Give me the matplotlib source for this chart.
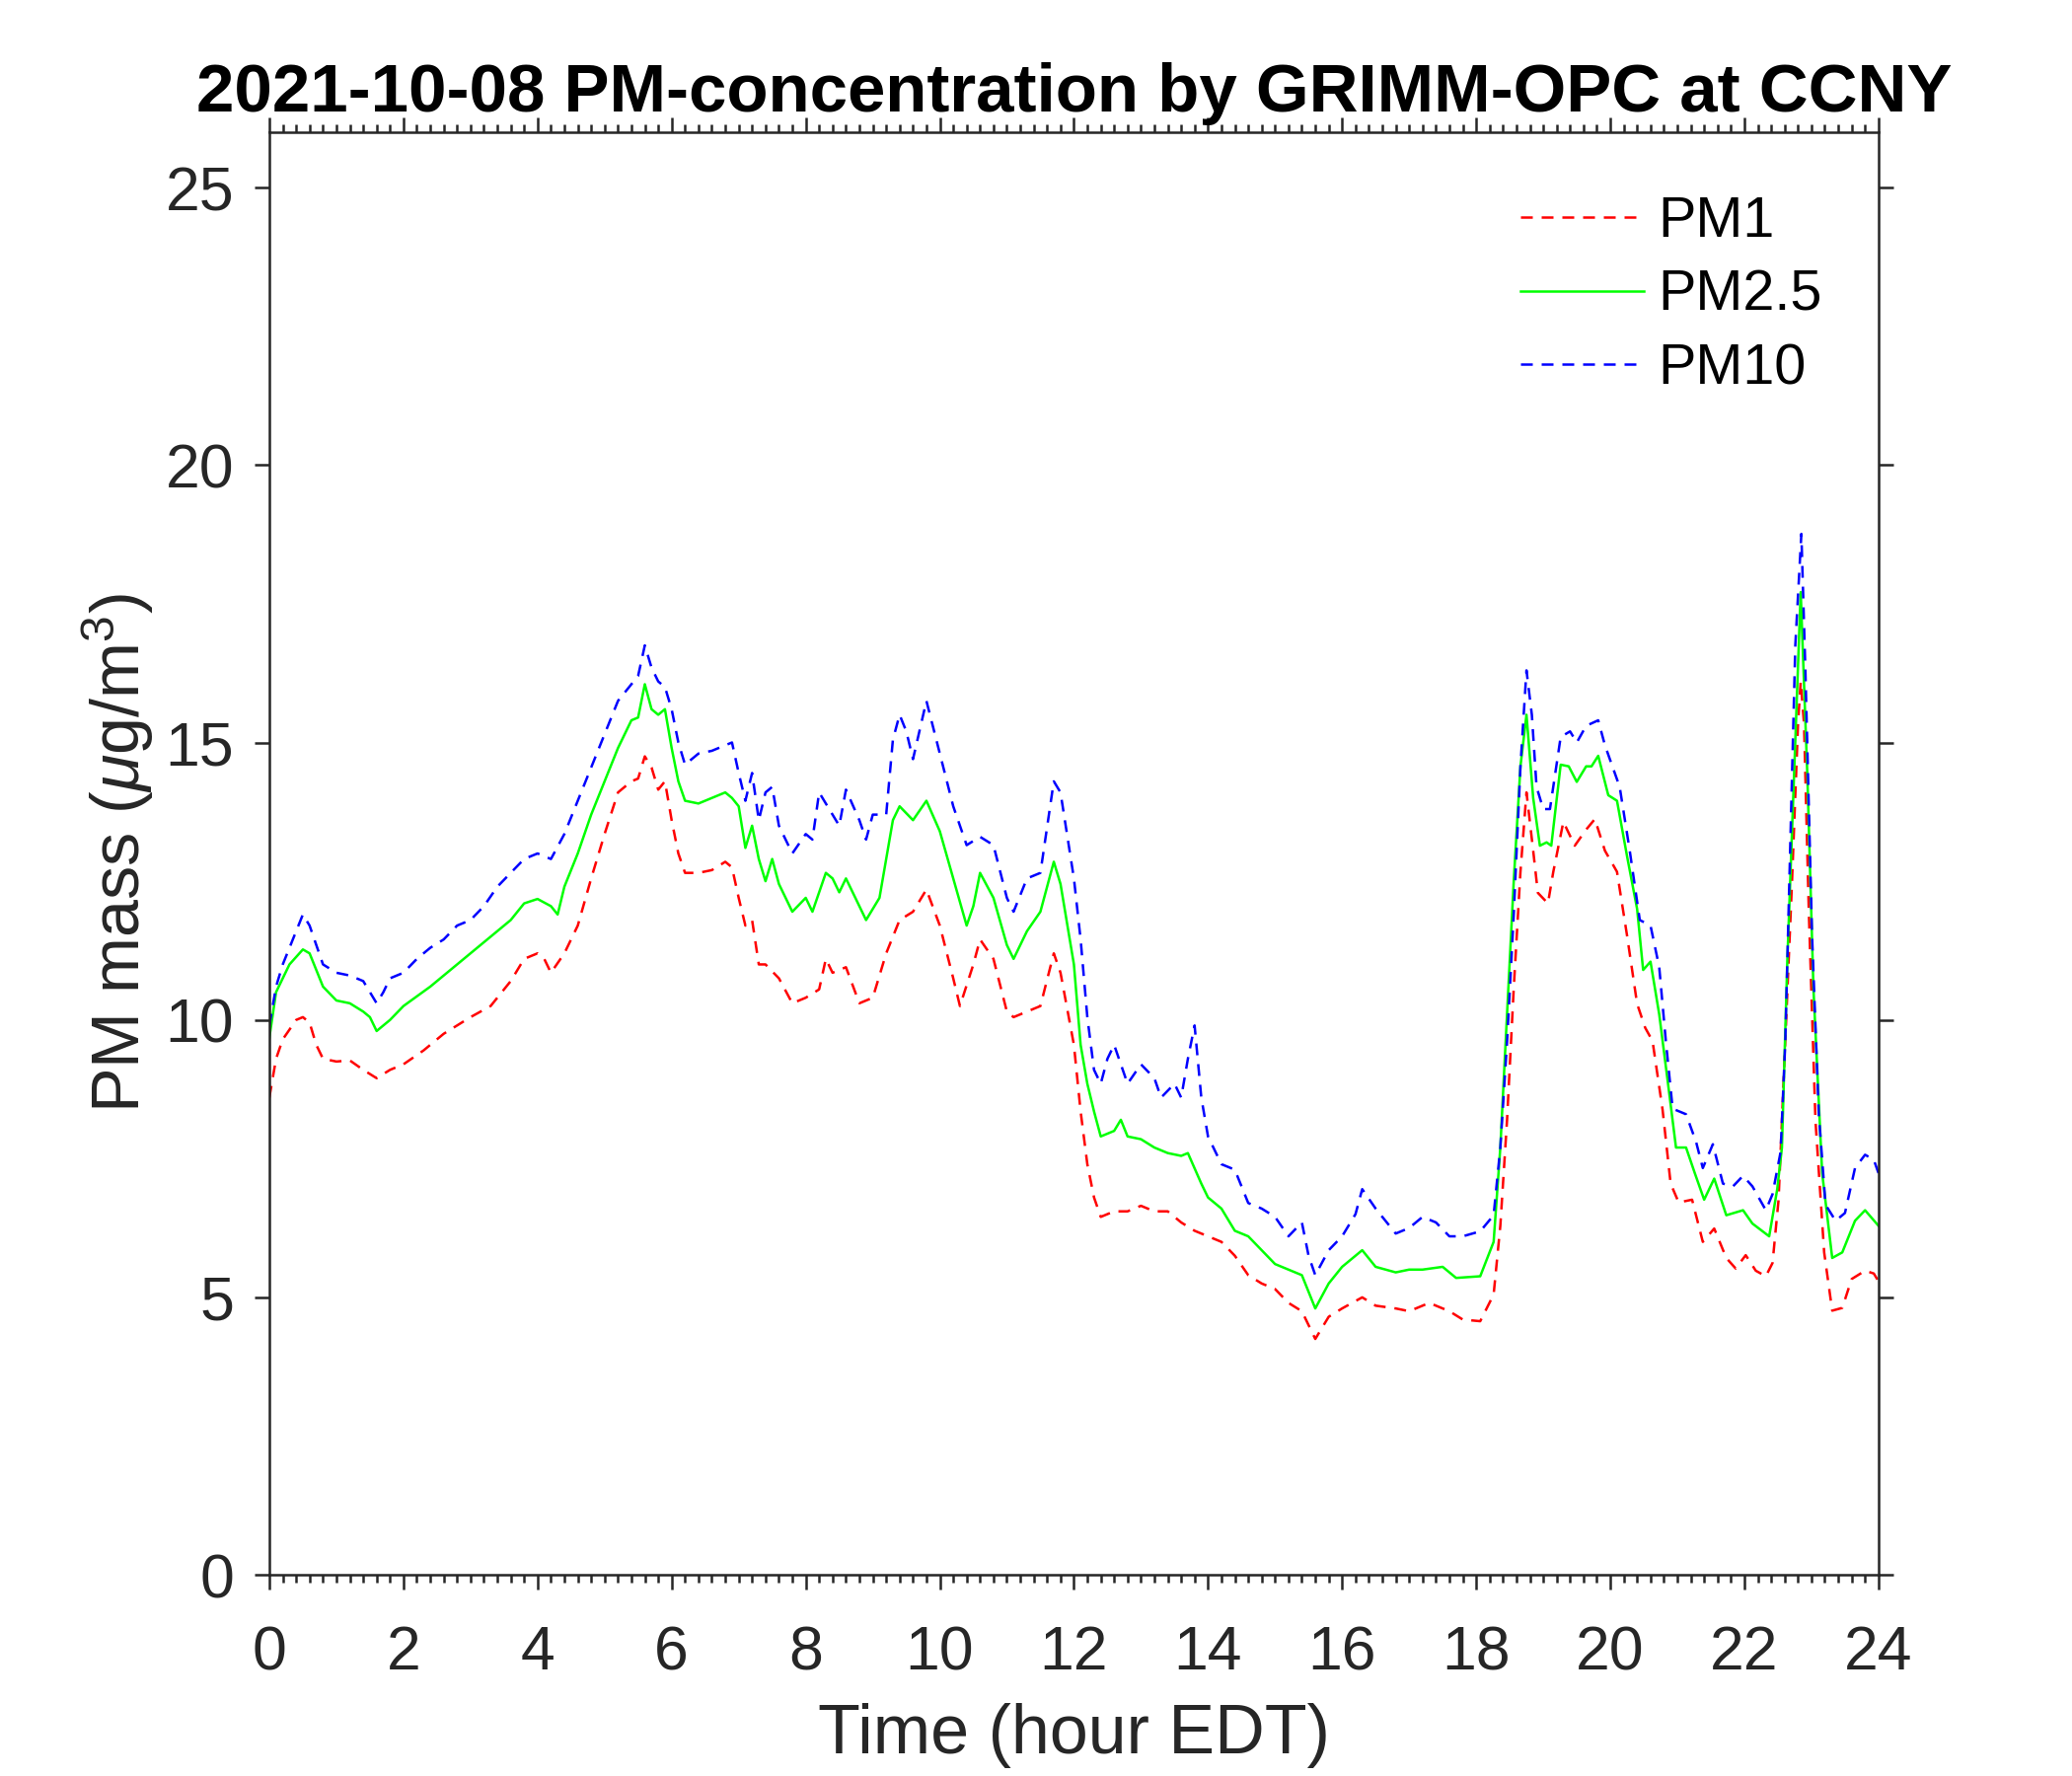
import numpy as np
import matplotlib.pyplot as plt

# values (hour EDT, ug/m3)
pm1_hour = [0, 0.1, 0.2, 0.4, 0.5, 0.6, 0.7, 0.8, 1.0, 1.2, 1.4, 1.6, 1.8, 2.0, 2.3, 2.6,
            3.0, 3.3, 3.6, 3.8, 4.0, 4.1, 4.2, 4.4, 4.6, 4.8, 5.0, 5.2, 5.4, 5.5, 5.6, 5.7,
            5.8, 5.9, 6.0, 6.1, 6.2, 6.4, 6.6, 6.8, 6.9, 7.0, 7.1, 7.2, 7.3, 7.4, 7.6, 7.8,
            8.0, 8.2, 8.3, 8.4, 8.6, 8.8, 9.0, 9.2, 9.4, 9.6, 9.8, 10.0, 10.2, 10.3, 10.5,
            10.6, 10.8, 11.0, 11.1, 11.3, 11.5, 11.7, 11.8, 12.0, 12.1, 12.2, 12.3, 12.4,
            12.6, 12.8, 13.0, 13.2, 13.4, 13.6, 13.8, 14.0, 14.2, 14.4, 14.6, 14.8, 15.0,
            15.2, 15.4, 15.6, 15.8, 16.0, 16.3, 16.5, 16.8, 17.0, 17.3, 17.6, 17.8, 18.06,
            18.26, 18.36, 18.46, 18.56, 18.66, 18.75, 18.85, 18.92, 19.07, 19.15, 19.3,
            19.47, 19.64, 19.77, 19.92, 20.1, 20.25, 20.4, 20.52, 20.63, 20.78, 20.9, 21.02,
            21.22, 21.38, 21.55, 21.73, 21.87, 22.02, 22.17, 22.32, 22.42, 22.51, 22.61,
            22.71, 22.8, 22.84, 22.89, 22.96, 23.06, 23.19, 23.31, 23.46, 23.6, 23.8, 23.93, 24.0]
pm1 = [8.6, 9.3, 9.65, 10.0, 10.05, 9.95, 9.55, 9.3, 9.25, 9.27, 9.1, 8.95, 9.1, 9.2, 9.45, 9.75,
       10.05, 10.25, 10.7, 11.1, 11.2, 11.1, 10.85, 11.2, 11.7, 12.55, 13.35, 14.1, 14.3, 14.35,
       14.75, 14.55, 14.15, 14.3, 13.6, 13.0, 12.65, 12.65, 12.7, 12.85, 12.75, 12.2, 11.7, 11.8,
       11.0, 11.0, 10.75, 10.3, 10.4, 10.55, 11.1, 10.85, 10.95, 10.3, 10.4, 11.2, 11.8, 11.95,
       12.35, 11.7, 10.75, 10.25, 11.0, 11.45, 11.1, 10.15, 10.05, 10.15, 10.25, 11.2, 10.85,
       9.55, 8.35, 7.4, 6.8, 6.45, 6.55, 6.55, 6.65, 6.55, 6.55, 6.35, 6.2, 6.1, 6.0, 5.75, 5.4,
       5.25, 5.15, 4.9, 4.75, 4.25, 4.65, 4.8, 5.0, 4.85, 4.8, 4.75, 4.9, 4.75, 4.6, 4.57,
       5.05, 6.29, 8.19, 10.57, 12.67, 14.1, 13.05, 12.29, 12.1, 12.67, 13.57, 13.14, 13.43,
       13.62, 13.05, 12.67, 11.52, 10.29, 9.86, 9.62, 8.38, 7.05, 6.71, 6.76, 6.0, 6.24, 5.71,
       5.52, 5.76, 5.48, 5.38, 5.62, 6.76, 9.62, 12.48, 15.33, 16.1, 15.33, 12.0, 8.19, 5.81,
       4.76, 4.81, 5.33, 5.48, 5.43, 5.29]

pm25_hour = [0, 0.1, 0.2, 0.3, 0.5, 0.6, 0.7, 0.8, 1.0, 1.2, 1.4, 1.5, 1.6, 1.8, 2.0, 2.4, 2.8,
             3.0, 3.4, 3.6, 3.8, 4.0, 4.2, 4.3, 4.4, 4.6, 4.8, 5.0, 5.2, 5.4, 5.5, 5.6, 5.7,
             5.8, 5.9, 6.0, 6.1, 6.2, 6.4, 6.6, 6.8, 6.9, 7.0, 7.1, 7.2, 7.3, 7.4, 7.5, 7.6,
             7.8, 8.0, 8.1, 8.3, 8.4, 8.5, 8.6, 8.8, 8.9, 9.1, 9.3, 9.4, 9.6, 9.8, 10.0, 10.2,
             10.4, 10.5, 10.6, 10.8, 11.0, 11.1, 11.3, 11.5, 11.7, 11.8, 12.0, 12.1, 12.2,
             12.3, 12.4, 12.6, 12.7, 12.8, 13.0, 13.2, 13.4, 13.6, 13.7, 13.9, 14.0, 14.2,
             14.4, 14.6, 14.8, 15.0, 15.2, 15.4, 15.6, 15.8, 16.0, 16.3, 16.5, 16.8, 17.0,
             17.2, 17.5, 17.7, 18.06, 18.26, 18.36, 18.46, 18.56, 18.66, 18.75, 18.85, 18.95,
             19.05, 19.12, 19.26, 19.38, 19.5, 19.64, 19.72, 19.82, 19.97, 20.1, 20.25, 20.4,
             20.49, 20.6, 20.73, 20.88, 20.98, 21.13, 21.26, 21.4, 21.55, 21.73, 21.98, 22.12,
             22.37, 22.49, 22.56, 22.64, 22.74, 22.84, 22.94, 23.03, 23.16, 23.31, 23.46,
             23.65, 23.8, 24.0]
pm25 = [9.68, 10.5, 10.75, 11.0, 11.27, 11.2, 10.9, 10.6, 10.35, 10.3, 10.15, 10.05, 9.8, 10.0,
        10.25, 10.6, 11.0, 11.2, 11.6, 11.8, 12.1, 12.18, 12.05, 11.9, 12.4, 13.0, 13.7, 14.3,
        14.9, 15.4, 15.45, 16.05, 15.6, 15.5, 15.6, 14.9, 14.3, 13.95, 13.9, 14.0, 14.1, 14.0,
        13.85, 13.1, 13.5, 12.9, 12.5, 12.9, 12.45, 11.95, 12.2, 11.95, 12.65, 12.55, 12.3,
        12.55, 12.05, 11.8, 12.2, 13.6, 13.85, 13.6, 13.95, 13.4, 12.55, 11.7, 12.05, 12.65,
        12.2, 11.35, 11.1, 11.6, 11.95, 12.85, 12.45, 11.0, 9.55, 8.85, 8.35, 7.9, 8.0, 8.2,
        7.9, 7.85, 7.7, 7.6, 7.55, 7.6, 7.05, 6.8, 6.6, 6.2, 6.1, 5.85, 5.6, 5.5, 5.4, 4.8,
        5.25, 5.55, 5.85, 5.55, 5.45, 5.5, 5.5, 5.55, 5.35, 5.38, 6.0, 7.7, 10.1, 12.5, 14.57,
        15.5, 14.0, 13.14, 13.2, 13.14, 14.6, 14.57, 14.29, 14.57, 14.57, 14.76, 14.05, 13.95,
        12.95, 12.0, 10.9, 11.05, 10.1, 8.67, 7.7, 7.7, 7.24, 6.76, 7.14, 6.48, 6.57, 6.33,
        6.1, 6.95, 7.7, 11.05, 14.38, 17.71, 14.38, 10.57, 7.24, 5.71, 5.81, 6.38, 6.57, 6.29]

pm10_hour = [0, 0.1, 0.2, 0.4, 0.5, 0.6, 0.7, 0.8, 1.0, 1.2, 1.4, 1.6, 1.7, 1.8, 2.0, 2.2, 2.4,
             2.6, 2.8, 3.0, 3.2, 3.4, 3.6, 3.8, 4.0, 4.2, 4.4, 4.6, 4.8, 5.0, 5.2, 5.4, 5.5,
             5.6, 5.7, 5.8, 5.9, 6.0, 6.1, 6.2, 6.4, 6.6, 6.8, 6.9, 7.0, 7.1, 7.2, 7.3, 7.4,
             7.5, 7.6, 7.8, 8.0, 8.1, 8.2, 8.4, 8.5, 8.6, 8.8, 8.9, 9.0, 9.2, 9.3, 9.4, 9.5,
             9.6, 9.8, 10.0, 10.2, 10.4, 10.6, 10.8, 11.0, 11.1, 11.3, 11.5, 11.7, 11.8, 12.0,
             12.1, 12.2, 12.3, 12.4, 12.5, 12.6, 12.7, 12.8, 13.0, 13.2, 13.3, 13.5, 13.6,
             13.7, 13.8, 13.9, 14.0, 14.2, 14.4, 14.6, 14.8, 15.0, 15.2, 15.4, 15.5, 15.6,
             15.8, 16.0, 16.2, 16.3, 16.5, 16.8, 17.0, 17.2, 17.4, 17.6, 17.8, 18.06, 18.26,
             18.36, 18.46, 18.56, 18.66, 18.75, 18.83, 18.9, 19.0, 19.1, 19.26, 19.4, 19.5,
             19.64, 19.82, 19.92, 20.14, 20.29, 20.44, 20.6, 20.73, 20.83, 20.93, 21.13, 21.28,
             21.38, 21.53, 21.68, 21.83, 21.98, 22.12, 22.32, 22.42, 22.54, 22.61, 22.69,
             22.76, 22.85, 22.91, 23.01, 23.11, 23.21, 23.36, 23.5, 23.65, 23.8, 23.93, 24.0]
pm10 = [9.9, 10.6, 11.0, 11.6, 11.9, 11.7, 11.35, 11.0, 10.85, 10.8, 10.7, 10.3, 10.5, 10.75,
        10.85, 11.1, 11.3, 11.45, 11.7, 11.8, 12.05, 12.4, 12.65, 12.9, 13.0, 12.9, 13.35,
        13.95, 14.55, 15.15, 15.75, 16.05, 16.2, 16.75, 16.35, 16.1, 16.0, 15.6, 15.0, 14.6,
        14.8, 14.85, 14.95, 15.0, 14.45, 13.95, 14.45, 13.6, 14.1, 14.2, 13.5, 13.0, 13.35,
        13.25, 14.1, 13.7, 13.5, 14.15, 13.6, 13.25, 13.7, 13.7, 15.05, 15.5, 15.2, 14.7,
        15.75, 14.8, 13.85, 13.15, 13.3, 13.15, 12.2, 11.95, 12.55, 12.65, 14.3, 14.1, 12.55,
        11.45, 10.05, 9.1, 8.85, 9.3, 9.55, 9.2, 8.85, 9.2, 8.95, 8.6, 8.85, 8.6, 9.3, 9.9,
        8.6, 7.9, 7.4, 7.3, 6.7, 6.6, 6.45, 6.1, 6.35, 5.75, 5.4, 5.85, 6.1, 6.5, 6.95, 6.6,
        6.15, 6.25, 6.45, 6.35, 6.1, 6.1, 6.19, 6.48, 7.7, 9.6, 11.9, 14.57, 16.3, 15.5, 14.2,
        13.8, 13.8, 15.1, 15.2, 15.0, 15.3, 15.4, 14.95, 14.2, 13.05, 11.8, 11.7, 10.95, 9.6,
        8.4, 8.3, 7.8, 7.33, 7.76, 7.05, 7.0, 7.19, 7.0, 6.57, 6.86, 7.62, 9.6, 13.43, 16.76,
        18.76, 16.3, 11.5, 8.3, 6.67, 6.38, 6.52, 7.33, 7.57, 7.48, 7.24]

plt.rcParams['font.family'] = ['Liberation Sans', 'DejaVu Sans']
plt.rcParams['mathtext.fontset'] = 'custom'
plt.rcParams['mathtext.rm'] = 'Liberation Sans'
plt.rcParams['mathtext.it'] = 'Liberation Sans:italic'

ink = '#262626'
fig = plt.figure(figsize=(7, 6), dpi=300)
ax = fig.add_axes([0.1300, 0.1133, 0.7766, 0.8123])

dash = (0, (4.8, 3.6))
ax.plot(pm1_hour, pm1, color='#ff0000', lw=0.6, linestyle=dash, label='PM1')
ax.plot(pm25_hour, pm25, color='#00ff00', lw=0.6, label='PM2.5')
ax.plot(pm10_hour, pm10, color='#0000ff', lw=0.6, linestyle=dash, label='PM10')

ax.set_xlim(0, 24)
ax.set_ylim(0, 26)
ax.set_xticks(np.arange(0, 25, 2))
ax.set_xticks(np.arange(0, 24.01, 0.2), minor=True)
ax.set_yticks(np.arange(0, 26, 5))

for s in ax.spines.values():
    s.set_color(ink)
    s.set_linewidth(0.6)
ax.tick_params(which='both', direction='out', top=True, right=True, color=ink,
               labelcolor=ink, labelsize=15, width=0.6)
ax.tick_params(which='major', length=3.6)
ax.tick_params(which='minor', length=1.9)
ax.tick_params(axis='x', which='major', pad=8.5)
ax.tick_params(axis='y', which='major', pad=5)

ax.set_xlabel('Time (hour EDT)', fontsize=16.8, color=ink, labelpad=5)
ax.set_ylabel(r'PM mass ($\mu$g/m$^3$)', fontsize=16.4, color=ink, labelpad=2.4)
ax.set_title('2021-10-08 PM-concentration by GRIMM-OPC at CCNY', fontsize=16.55,
             fontweight='bold', color='black', pad=5)

ax.legend(loc='upper left', bbox_to_anchor=(0.734, 0.890), bbox_transform=fig.transFigure,
          frameon=False, fontsize=13.8, handlelength=2.16, handletextpad=0.25,
          labelspacing=0.36, borderpad=0, borderaxespad=0)

fig.savefig('out.png', dpi=300)
